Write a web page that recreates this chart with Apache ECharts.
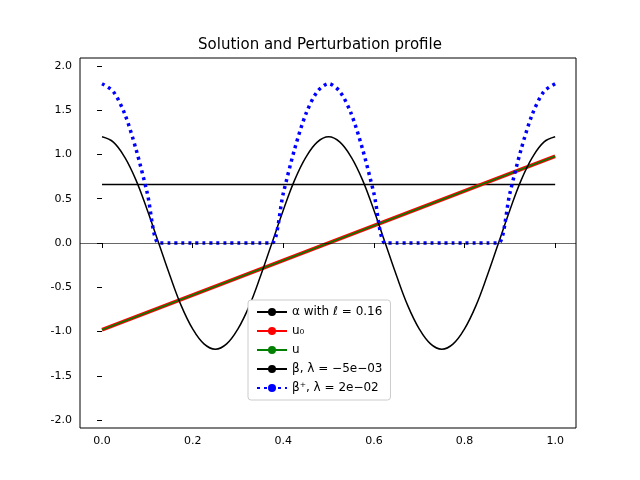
<!DOCTYPE html>
<html><head><meta charset="utf-8">
<script src="https://cdn.jsdelivr.net/npm/echarts@6/dist/echarts.min.js"></script>
<style>html,body{margin:0;background:#fff}#c{width:640px;height:480px}</style>
</head><body><div id="c"></div>
<script>
// x samples every 0.025
var xs = [];
for (var i = 0; i <= 40; i++) xs.push(+(i * 0.025).toFixed(3));
// values
var alphaVal = 0.66;
var u0Ends = [-0.98, 0.98];
var uEnds = [-0.98, 0.98];
var betaHalf = [1.2, 1.14, 0.97, 0.71, 0.37, 0, -0.37, -0.71, -0.97, -1.14, -1.2, -1.14, -0.97, -0.71, -0.37, 0, 0.37, 0.71, 0.97, 1.14];
var betaVals = betaHalf.concat(betaHalf).concat([1.2]);
var betaPlusHalf = [1.8, 1.71, 1.46, 1.06, 0.56, 0, 0, 0, 0, 0, 0, 0, 0, 0, 0, 0, 0.56, 1.06, 1.46, 1.71];
var betaPlusVals = betaPlusHalf.concat(betaPlusHalf).concat([1.8]);
var xTicks = [0, 0.2, 0.4, 0.6, 0.8, 1.0];
var yTicks = [-2, -1.5, -1, -0.5, 0, 0.5, 1, 1.5, 2];
var names = ['α with ℓ = 0.16', 'u₀', 'u', 'β, λ = −5e−03', 'β⁺, λ = 2e−02'];

function pairs(ys) { return xs.map(function (x, i) { return [x, ys[i]]; }); }

var chart = echarts.init(document.getElementById('c'));
chart.setOption({
    animation: false,
    title: { text: 'Solution and Perturbation profile', left: 'center', top: 33,
        textStyle: { fontFamily: 'DejaVu Sans', fontSize: 15, fontWeight: 'normal', color: '#000' } },
    grid: { left: 80, right: 64, top: 58, bottom: 52, show: true, borderColor: '#000', borderWidth: 1 },
    xAxis: { type: 'value', min: -0.0486, max: 1.046,
        axisLine: { show: false }, splitLine: { show: false },
        axisTick: { show: true, customValues: xTicks, lineStyle: { color: '#000' } },
        axisLabel: { customValues: xTicks, formatter: function (v) { return v.toFixed(1); },
            color: '#000', fontFamily: 'DejaVu Sans', fontSize: 11 } },
    yAxis: { type: 'value', min: -2.09, max: 2.09,
        axisLine: { show: false }, splitLine: { show: false },
        axisTick: { show: true, customValues: yTicks, lineStyle: { color: '#000' } },
        axisLabel: { customValues: yTicks, formatter: function (v) { return v.toFixed(1); },
            color: '#000', fontFamily: 'DejaVu Sans', fontSize: 11 } },
    legend: { orient: 'vertical', left: 248, top: 300, itemWidth: 30, itemHeight: 10, itemGap: 7,
        backgroundColor: '#fff', borderColor: '#ccc', borderWidth: 1, borderRadius: 3, padding: [6, 8],
        textStyle: { fontFamily: 'DejaVu Sans', fontSize: 12, color: '#000' },
        data: names },
    series: [
        { name: names[0], type: 'line', symbol: 'none', data: [[0, alphaVal], [1, alphaVal]],
          lineStyle: { color: '#000', width: 1.5 }, itemStyle: { color: '#000' },
          markLine: { silent: true, symbol: 'none', label: { show: false },
              lineStyle: { color: '#000', width: 0.6, type: 'solid' }, data: [{ yAxis: 0 }] } },
        { name: names[1], type: 'line', symbol: 'none', data: [[0, u0Ends[0]], [1, u0Ends[1]]],
          lineStyle: { color: '#ff0000', width: 3.5 }, itemStyle: { color: '#ff0000' } },
        { name: names[2], type: 'line', symbol: 'none', data: [[0, uEnds[0]], [1, uEnds[1]]],
          lineStyle: { color: '#008000', width: 1.5 }, itemStyle: { color: '#008000' } },
        { name: names[3], type: 'line', symbol: 'none', smooth: 0.4, data: pairs(betaVals),
          lineStyle: { color: '#000', width: 1.5 }, itemStyle: { color: '#000' } },
        { name: names[4], type: 'line', symbol: 'none', smooth: 0.3, data: pairs(betaPlusVals),
          lineStyle: { color: '#0000ff', width: 3.5, type: [3, 4] }, itemStyle: { color: '#0000ff' } }
    ]
});
</script></body></html>
